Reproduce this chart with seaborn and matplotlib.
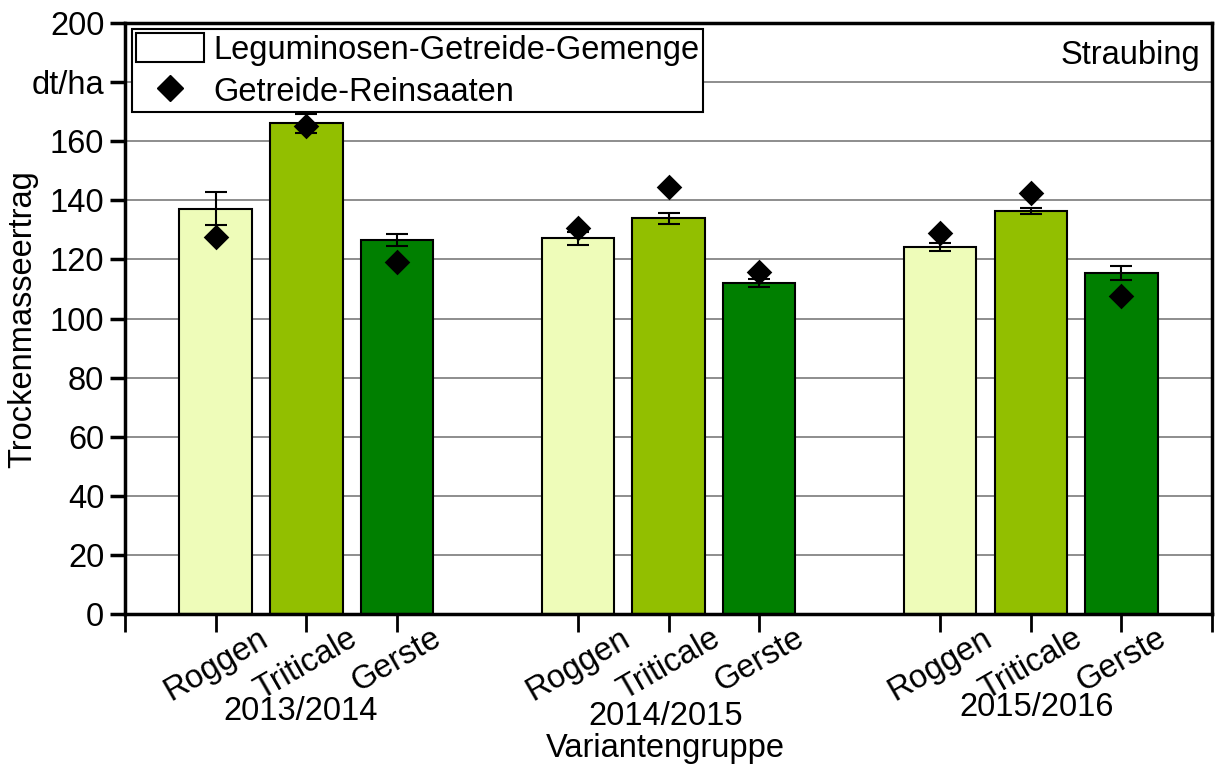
import matplotlib
matplotlib.use("Agg")
import matplotlib.pyplot as plt
from matplotlib.patches import Patch
from matplotlib.lines import Line2D
import pandas as pd
import seaborn as sns

# data
jahre = ["2013/2014", "2014/2015", "2015/2016"]
getreide = ["Roggen", "Triticale", "Gerste"]
gemenge = [137.2, 166.0, 126.5,
           127.1, 133.9, 112.0,
           124.3, 136.4, 115.4]
fehler = [5.5, 3.3, 2.0,
          2.2, 1.8, 1.3,
          1.3, 1.1, 2.5]
reinsaat = [127.7, 165.2, 119.0,
            130.7, 144.4, 115.7,
            128.8, 142.4, 107.7]
farben = {"Roggen": "#EEFCB9", "Triticale": "#92BF00", "Gerste": "#007F00"}

pos = []
for g in range(len(jahre)):
    for k in range(len(getreide)):
        pos.append(g * 4 + k + 1)

df = pd.DataFrame({
    "pos": pos,
    "sorte": getreide * len(jahre),
    "gemenge": gemenge,
    "fehler": fehler,
    "reinsaat": reinsaat,
})

sns.set_style("ticks")
plt.rcParams["font.family"] = ["Liberation Sans", "DejaVu Sans"]
for key in ["text.color", "axes.labelcolor", "xtick.color", "ytick.color"]:
    plt.rcParams[key] = "black"

fs = 23.5

fig = plt.figure(figsize=(12.15, 7.65), dpi=100)
ax = fig.add_axes([0.103, 0.197, 0.8945, 0.773])

sns.barplot(data=df, x="pos", y="gemenge", hue="sorte", palette=farben,
            native_scale=True, width=0.8, dodge=False, legend=False,
            saturation=1, edgecolor="black", linewidth=1.5, errorbar=None,
            ax=ax, zorder=2)
ax.errorbar(df["pos"], df["gemenge"], yerr=df["fehler"], fmt="none",
            ecolor="black", elinewidth=1.5, capsize=8, capthick=1.5, zorder=3)
sns.scatterplot(data=df, x="pos", y="reinsaat", marker="D", color="black",
                s=170, edgecolor="black", linewidth=0, ax=ax, zorder=4,
                legend=False)

ax.set_xlim(0, 12)
ax.set_ylim(0, 200)
ax.set_yticks(range(0, 201, 20))
ax.set_yticklabels(["0", "20", "40", "60", "80", "100", "120", "140",
                    "160", "dt/ha", "200"])
ax.yaxis.grid(True, color="#7a7a7a", linewidth=1.2, zorder=0)
ax.set_axisbelow(True)

ax.set_xticks([0] + pos + [12])
ax.set_xticklabels([""] + getreide * len(jahre) + [""], rotation=30,
                   ha="center", fontsize=fs)
ax.tick_params(axis="y", labelsize=fs, length=11, width=2.5, direction="out",
               pad=4)
ax.tick_params(axis="x", length=13, width=2, direction="out", pad=-7)

for sp in ax.spines.values():
    sp.set_visible(True)
    sp.set_linewidth(2.5)
    sp.set_color("black")

ax.set_xlabel("")
ax.set_ylabel("Trockenmasseertrag", fontsize=fs)
ax.yaxis.set_label_coords(-0.08, 0.5)

# Jahres-Beschriftungen unter den Gruppen
gruppen_x = [1.94, 5.97, 10.06]
gruppen_y = [-0.139, -0.147, -0.132]
for g, jahr in enumerate(jahre):
    ax.text(gruppen_x[g], gruppen_y[g], jahr,
            transform=ax.get_xaxis_transform(),
            ha="center", va="top", fontsize=fs)
ax.text(5.97, -0.2, "Variantengruppe", transform=ax.get_xaxis_transform(),
        ha="center", va="top", fontsize=fs)

ax.text(0.989, 0.972, "Straubing", transform=ax.transAxes, ha="right",
        va="top", fontsize=fs)

handles = [Patch(facecolor="white", edgecolor="black", linewidth=1.5),
           Line2D([], [], marker="D", color="black", linestyle="none",
                  markersize=13)]
leg = ax.legend(handles, ["Leguminosen-Getreide-Gemenge", "Getreide-Reinsaaten"],
                loc="upper left", bbox_to_anchor=(0.006, 0.99), fontsize=fs,
                frameon=True, fancybox=False, framealpha=1,
                handlelength=2.1, handleheight=1.0, borderpad=0.12,
                labelspacing=0.3, handletextpad=0.28, borderaxespad=0)
leg.get_frame().set_edgecolor("black")
leg.get_frame().set_linewidth(1.5)

fig.savefig("out.png", dpi=100)
